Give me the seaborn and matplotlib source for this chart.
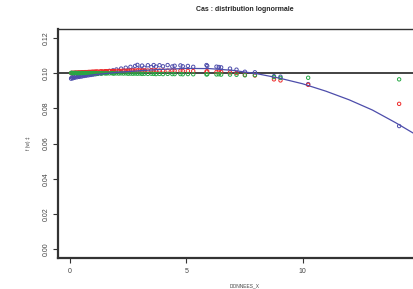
import numpy as np
import pandas as pd
import matplotlib
matplotlib.use("Agg")
import matplotlib.pyplot as plt
import seaborn as sns

# ---- data ----
x_vals = [0.05, 0.08, 0.12, 0.15, 0.20, 0.25, 0.30, 0.35, 0.40, 0.45, 0.50, 0.55,
          0.60, 0.65, 0.70, 0.75, 0.80, 0.85, 0.90, 0.95, 1.00, 1.05, 1.10, 1.15,
          1.20, 1.30, 1.35, 1.40, 1.50, 1.55, 1.60, 1.70, 1.80, 1.85, 1.90, 2.00,
          2.10, 2.20, 2.30, 2.40, 2.50, 2.60, 2.70, 2.80, 2.90, 3.00, 3.10, 3.20,
          3.35, 3.50, 3.60, 3.70, 3.85, 4.00, 4.20, 4.40, 4.50, 4.75, 4.85, 5.07,
          5.30, 5.87, 5.90, 6.30, 6.40, 6.50, 6.88, 7.16, 7.52, 7.95, 8.77, 9.05,
          10.24, 14.15]
blue_y = [0.0968, 0.0975, 0.0970, 0.0978, 0.0973, 0.0980, 0.0976, 0.0982, 0.0978, 0.0984, 0.0980, 0.0986,
          0.0983, 0.0988, 0.0985, 0.0990, 0.0987, 0.0992, 0.0989, 0.0994, 0.0991, 0.0996, 0.0993, 0.0998,
          0.0995, 0.1000, 0.0997, 0.1003, 0.1002, 0.1008, 0.1003, 0.1012, 0.1006, 0.1015, 0.1008, 0.1020,
          0.1010, 0.1025, 0.1012, 0.1030, 0.1015, 0.1035, 0.1018, 0.1040, 0.1046, 0.1025, 0.1042, 0.1030,
          0.1044, 0.1034, 0.1045, 0.1036, 0.1044, 0.1038, 0.1045, 0.1037, 0.1041, 0.1043, 0.1038, 0.1040,
          0.1035, 0.1045, 0.1040, 0.1036, 0.1034, 0.1032, 0.1025, 0.1019, 0.1007, 0.1004, 0.0982, 0.0979,
          0.0937, 0.0699]
red_y = [0.1000, 0.1001, 0.1000, 0.1001, 0.1002, 0.1002, 0.1002, 0.1003, 0.1003, 0.1003, 0.1004, 0.1004,
         0.1004, 0.1005, 0.1005, 0.1005, 0.1006, 0.1006, 0.1006, 0.1007, 0.1007, 0.1007, 0.1008, 0.1008,
         0.1008, 0.1009, 0.1009, 0.1009, 0.1010, 0.1010, 0.1010, 0.1011, 0.1011, 0.1011, 0.1011, 0.1012,
         0.1012, 0.1012, 0.1013, 0.1013, 0.1013, 0.1014, 0.1014, 0.1014, 0.1015, 0.1015, 0.1014, 0.1015,
         0.1014, 0.1015, 0.1014, 0.1015, 0.1014, 0.1014, 0.1013, 0.1014, 0.1013, 0.1013, 0.1012, 0.1012,
         0.1011, 0.1008, 0.1010, 0.1006, 0.1008, 0.1006, 0.1003, 0.1000, 0.0990, 0.0986, 0.0964, 0.0958,
         0.0933, 0.0825]
green_y = [0.1000, 0.1001, 0.0999, 0.1000, 0.1000, 0.1001, 0.0999, 0.1000, 0.1000, 0.0999, 0.1000, 0.1000,
           0.0999, 0.1000, 0.0999, 0.1000, 0.0999, 0.1000, 0.0999, 0.0999, 0.1000, 0.0998, 0.0999, 0.0999,
           0.0998, 0.0999, 0.0998, 0.0999, 0.0998, 0.0999, 0.0998, 0.0998, 0.0999, 0.0998, 0.0997, 0.0998,
           0.0997, 0.0998, 0.0997, 0.0998, 0.0996, 0.0997, 0.0996, 0.0997, 0.0996, 0.0997, 0.0995, 0.0996,
           0.0995, 0.0996, 0.0995, 0.0994, 0.0995, 0.0994, 0.0995, 0.0994, 0.0994, 0.0994, 0.0993, 0.0994,
           0.0993, 0.0992, 0.0993, 0.0992, 0.0993, 0.0991, 0.0991, 0.0990, 0.0987, 0.0988, 0.0977, 0.0972,
           0.0973, 0.0964]
curve_x = [0, 1, 2, 3, 4, 5, 6, 7, 8, 9, 10, 11, 12, 13, 14, 15, 16]
curve_y = [0.0972, 0.0990, 0.1003, 0.1013, 0.1021, 0.1026, 0.1025, 0.1015, 0.0997, 0.0971,
           0.0939, 0.0897, 0.0848, 0.0790, 0.0718, 0.0640, 0.0556]
ref_level = 0.10
x_ticks = [0, 5, 10]
y_ticks = [0.00, 0.02, 0.04, 0.06, 0.08, 0.10, 0.12]
title = "Cas : distribution lognormale"
x_label = "DONNEES_X"
y_label = "f (w) ‡"

sns.set_style("white")
plt.rcParams["font.family"] = ["Liberation Sans", "DejaVu Sans"]

W, H = 413, 289
fig = plt.figure(figsize=(W / 100, H / 100), dpi=100)
left, right, top, bottom = 58.3, 431.7, 29.3, 257.7
ax = fig.add_axes([left / W, (H - bottom) / H, (right - left) / W, (bottom - top) / H])

blue_c = "#4d4dab"
red_c = "#ee2a2a"
green_c = "#26a845"

ax.axhline(ref_level, color="#222222", lw=1.2, zorder=1)

df = pd.DataFrame({"x": x_vals, "blue": blue_y, "red": red_y, "green": green_y})
for col, c in [("blue", blue_c), ("red", red_c), ("green", green_c)]:
    sns.scatterplot(data=df, x="x", y=col, ax=ax, s=6, marker="o", color=c,
                    linewidth=0.7, legend=False, zorder=3)
    coll = ax.collections[-1]
    coll.set_facecolor("none")
    coll.set_edgecolor(c)

cdf = pd.DataFrame({"x": curve_x, "y": curve_y})
sns.lineplot(data=cdf, x="x", y="y", ax=ax, color=blue_c, lw=0.9, zorder=4)

ax.set_xlim(-0.5, 15.55)
ax.set_ylim(-0.0048, 0.1248)
ax.set_xticks(x_ticks)
ax.set_xticklabels([str(t) for t in x_ticks])
ax.set_yticks(y_ticks)
ax.set_yticklabels([f"{t:.2f}" for t in y_ticks], rotation=90, va="center")
ax.tick_params(axis="both", direction="out", length=3.5, width=0.8, color="#333333",
               labelsize=5, labelcolor="#444444", bottom=True, left=True)
ax.tick_params(axis="y", pad=3)
ax.tick_params(axis="x", pad=4)

for side in ["left", "bottom"]:
    ax.spines[side].set_linewidth(1.6)
    ax.spines[side].set_color("#333333")
for side in ["top", "right"]:
    ax.spines[side].set_linewidth(1.0)
    ax.spines[side].set_color("#333333")

ax.set_title(title, fontsize=5, fontweight="bold", pad=13)
ax.set_xlabel(x_label, fontsize=3.5, color="#444444", labelpad=6)
ax.set_ylabel(y_label, fontsize=3.5, color="#444444", labelpad=8)

fig.savefig("out.png", dpi=100)
